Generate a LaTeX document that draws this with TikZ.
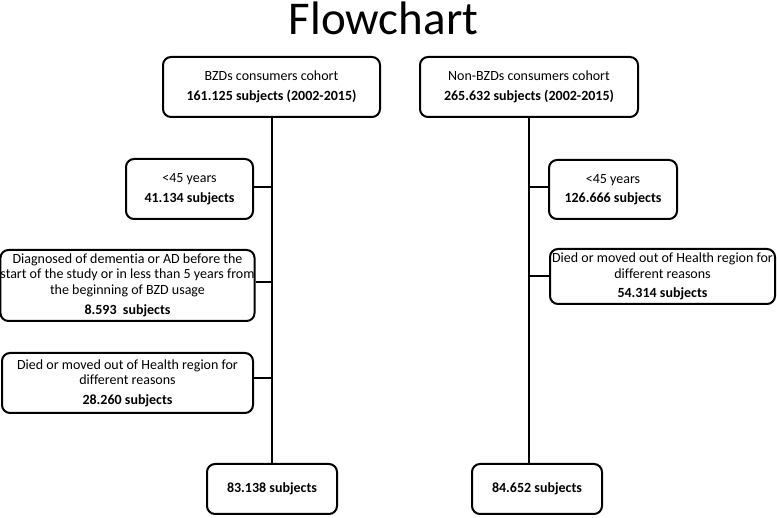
\documentclass[tikz,border=0pt]{standalone}
\usepackage{fontspec}
\setmainfont{Carlito}[Ligatures=NoCommon]
\begin{document}
\begin{tikzpicture}[x=1pt,y=-1pt,
	box/.style={draw, line width=2pt, rounded corners=8pt, align=center,
		inner sep=0pt, font=\fontsize{14}{15.5}\selectfont},
	link/.style={line width=2pt}]
	\useasboundingbox (0,0) rectangle (777,518);
	\node[anchor=base] (title) at (383.5,35) {\fontsize{47}{50}\selectfont Flowchart};
	% left cohort
	\node[box, minimum width=217pt, minimum height=60pt] (bzd) at (271.5,87)
		{BZDs consumers cohort\\[4pt] \textbf{161.125 subjects (2002-2015)}};
	\node[box, minimum width=127pt, minimum height=60pt] (lage) at (189.5,189)
		{<45 years\\[4pt] \textbf{41.134 subjects}};
	\node[box, minimum width=251pt, minimum height=71pt] (ldem) at (127.5,285.5)
		{Diagnosed of dementia or AD before the\\ start of the study or in less than 5 years from\\ the beginning of BZD usage\\[5pt] \textbf{8.593~ subjects}};
	\node[box, minimum width=251pt, minimum height=60pt] (ldied) at (127.5,383)
		{Died or moved out of Health region for\\ different reasons\\[4pt] \textbf{28.260 subjects}};
	\node[box, minimum width=130pt, minimum height=50pt] (lend) at (272,489)
		{\textbf{83.138 subjects}};
	% right cohort
	\node[box, minimum width=218pt, minimum height=60pt] (nbzd) at (529,87)
		{Non-BZDs consumers cohort\\[4pt] \textbf{265.632 subjects (2002-2015)}};
	\node[box, minimum width=128pt, minimum height=59pt] (rage) at (613,189.5)
		{<45 years\\[4pt] \textbf{126.666 subjects}};
	\node[box, minimum width=225pt, minimum height=55pt] (rdied) at (662.5,276.5)
		{Died or moved out of Health region for\\ different reasons\\[4pt] \textbf{54.314 subjects}};
	\node[box, minimum width=130pt, minimum height=50pt] (rend) at (537,489)
		{\textbf{84.652 subjects}};
	% trunks
	\draw[link] (bzd.south) -- (bzd.south |- lend.north);
	\draw[link] (nbzd.south) -- (nbzd.south |- rend.north);
	\draw[link] ([yshift=2pt]lage.east) -- ([yshift=2pt]lage.east -| bzd.south);
	\draw[link] ([yshift=3.5pt]ldem.east) -- ([yshift=3.5pt]ldem.east -| bzd.south);
	\draw[link] ([yshift=5pt]ldied.east) -- ([yshift=5pt]ldied.east -| bzd.south);
	\draw[link] ([yshift=2.5pt]rage.west) -- ([yshift=2.5pt]rage.west -| nbzd.south);
	\draw[link] (rdied.west) -- (rdied.west -| nbzd.south);
\end{tikzpicture}
\end{document}
